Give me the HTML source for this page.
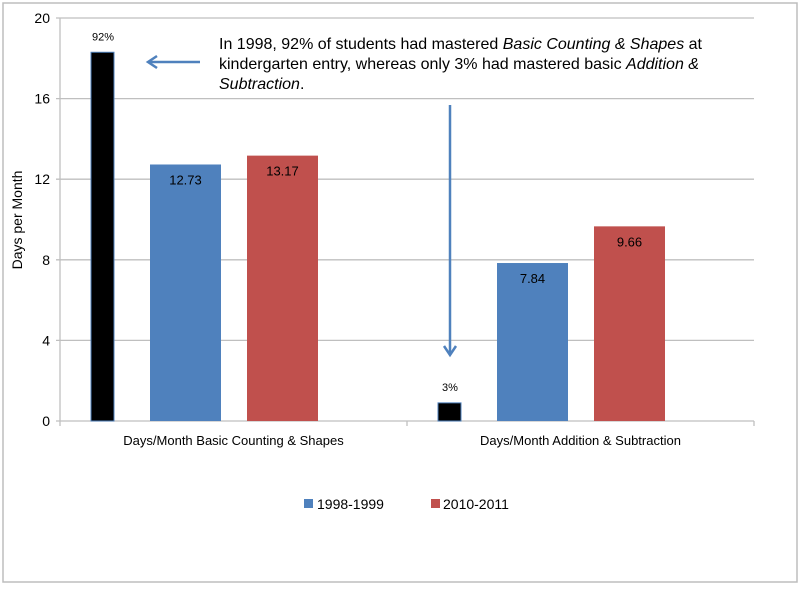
<!DOCTYPE html>
<html><head><meta charset="utf-8"><style>
body{margin:0;background:#fff;}
svg text{font-family:"Liberation Sans",sans-serif;}
</style></head><body>
<svg id="c" width="800" height="585" xmlns="http://www.w3.org/2000/svg">
<rect x="3" y="3" width="794" height="579" fill="#fff" stroke="#bdbdbd" stroke-width="1.5"/>
<g id="grid"></g><g id="bars"></g><g id="labels"></g>
<text x="22" y="220" font-size="14" transform="rotate(-90 22 220)" text-anchor="middle" fill="#000">Days per Month</text>
<g font-size="16" fill="#000">
<text x="219" y="49">In 1998, 92% of students had mastered <tspan font-style="italic">Basic Counting &amp; Shapes</tspan> at</text>
<text x="219" y="69">kindergarten entry, whereas only 3% had mastered basic <tspan font-style="italic">Addition &amp;</tspan></text>
<text x="219" y="89"><tspan font-style="italic">Subtraction</tspan>.</text>
</g>
<g stroke="#4f81bd" stroke-width="2.5" fill="none">
<line x1="200" y1="62" x2="149" y2="62"/><polyline points="157,56 148,62 157,68"/></g>
<g stroke="#4f81bd" stroke-width="2.5" fill="none">
<line x1="450" y1="105" x2="450" y2="354"/><polyline points="444,346 450,355 456,346"/></g>
<g font-size="14" fill="#000">
<rect x="304" y="499" width="9" height="9" fill="#4f81bd"/>
<text x="317" y="509">1998-1999</text>
<rect x="431" y="499" width="9" height="9" fill="#c0504d"/>
<text x="443" y="509">2010-2011</text>
</g>
</svg>
<script>
const categories=["Days/Month Basic Counting & Shapes","Days/Month Addition & Subtraction"];
const mastered=[18.3,0.9];
const masteredLabels=["92%","3%"];
const s1998=[12.73,7.84];
const s2010=[13.17,9.66];
const yTicks=[0,4,8,12,16,20];
const NS="http://www.w3.org/2000/svg";
const L=60,R=754,T=18,B=421,yMax=20;
const y=v=>B-(v/yMax)*(B-T);
const bw=(R-L)/categories.length;
const x=i=>L+i*bw;
function el(t,a,p){const e=document.createElementNS(NS,t);for(const k in a)e.setAttribute(k,a[k]);document.getElementById(p).appendChild(e);return e;}
yTicks.forEach(t=>{
 const g=el("line",{x1:L-4,x2:R,y1:y(t),y2:y(t),stroke:"#bfbfbf","stroke-width":1.3},"grid");
 
 
 const tx=el("text",{x:L-10,y:y(t)+5,"font-size":14,"text-anchor":"end",fill:"#000"},"labels");
 tx.textContent=t;
 
 
});
for(let i=0;i<=categories.length;i++){
 const tk=el("line",{x1:x(i),x2:x(i),y1:B,y2:B+5,stroke:"#bfbfbf","stroke-width":1.3},"grid");
 
 
}
const ax=el("line",{x1:L,x2:L,y1:T,y2:B,stroke:"#bfbfbf","stroke-width":1.3},"grid");


categories.forEach((c,i)=>{
 const x0=x(i);
 const mb=el("rect",{x:x0+31,y:y(mastered[i]),width:23,height:B-y(mastered[i]),fill:"#000",stroke:"#4f81bd","stroke-width":1},"bars");
 
 
 const ml=el("text",{x:x0+43,y:y(mastered[i])-12,"font-size":11,"text-anchor":"middle",fill:"#000"},"labels");
 ml.textContent=masteredLabels[i];
 
 
 [[s1998,"#4f81bd",90,"bar-1998"],[s2010,"#c0504d",187,"bar-2010"]].forEach(([s,col,off,nm])=>{
  const b=el("rect",{x:x0+off,y:y(s[i]),width:71,height:B-y(s[i]),fill:col},"bars");
  
  
  const v=el("text",{x:x0+off+35.5,y:y(s[i])+20,"font-size":13,"text-anchor":"middle",fill:"#000"},"labels");
  v.textContent=s[i].toFixed(2);
  
  
 });
 const cl=el("text",{x:x0+bw/2,y:B+24,"font-size":13,"text-anchor":"middle",fill:"#000"},"labels");
 cl.textContent=c;
 
 
});
</script>
</body></html>
